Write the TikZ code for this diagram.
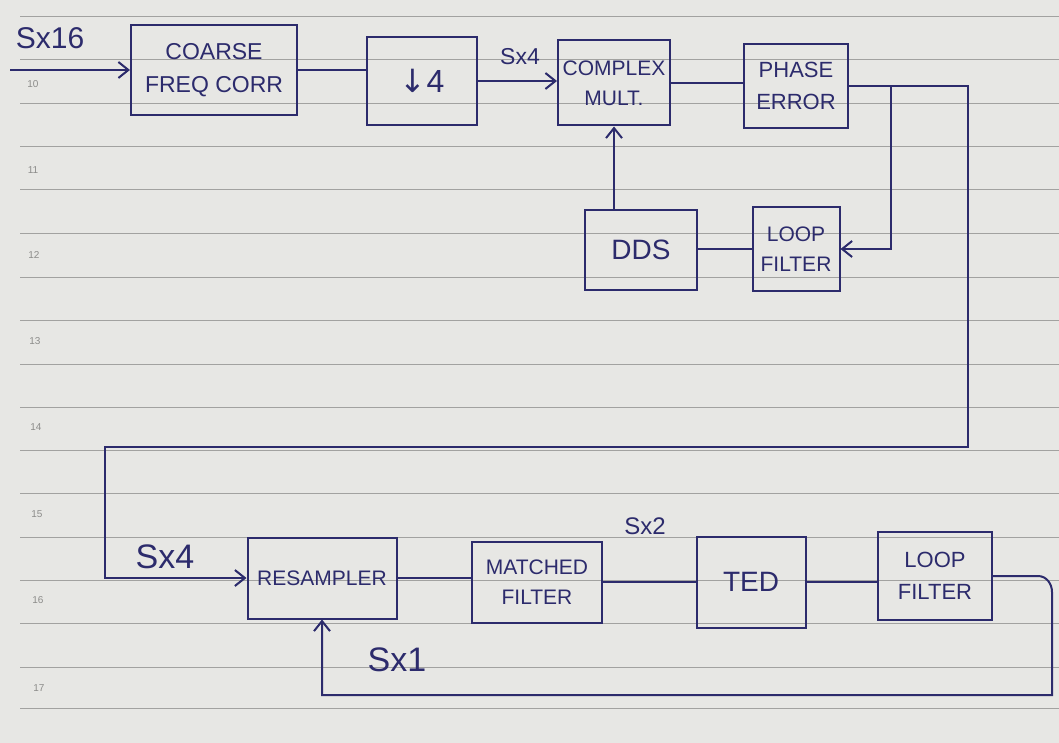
\documentclass[tikz,border=0pt]{standalone}
\usepackage{fontspec}
\setmainfont{Liberation Sans}
\newfontfamily\symfont{DejaVu Sans}
\usetikzlibrary{arrows.meta}
\definecolor{paper}{HTML}{E7E7E4}
\definecolor{rule}{HTML}{A2A2A0}
\definecolor{ink}{HTML}{2C2B6C}
\definecolor{numgray}{HTML}{8C8C8A}
\tikzset{
  blk/.style={draw=ink, line width=2pt, text=ink, inner sep=0pt, align=center,
    font=\fontsize{21}{30}\selectfont},
  wire/.style={draw=ink, line width=2pt},
  arr/.style={wire, -{Straight Barb[length=10pt,width=16pt,line width=2pt]}},
  lbl/.style={text=ink, inner sep=0pt},
  pnum/.style={text=numgray, font=\fontsize{10}{11}\selectfont, inner sep=0pt}
}
\begin{document}
\begin{tikzpicture}[x=1pt,y=-1pt]
\useasboundingbox (0,0) rectangle (1059,743);
\fill[paper] (0,0) rectangle (1059,743);
% ruled paper
\foreach \yy in {17,60,104,147,190,234,277,320,364,407,450,493,537,580,623,667,708}
  \draw[rule, line width=1pt] (20,\yy) -- (1059,\yy);
\node[pnum] (n10) at (33,84) {10};
\node[pnum] (n11) at (33,170) {11};
\node[pnum] (n12) at (34,255) {12};
\node[pnum] (n13) at (35,341) {13};
\node[pnum] (n14) at (36,427) {14};
\node[pnum] (n15) at (37,514) {15};
\node[pnum] (n16) at (38,600) {16};
\node[pnum] (n17) at (39,688) {17};

% blocks
\node[blk, minimum width=166pt, minimum height=90pt, font=\fontsize{23}{33}\selectfont] (coarse) at (214,70) {COARSE\\FREQ CORR};
\node[blk, minimum width=110pt, minimum height=88pt, font=\fontsize{32}{34}\selectfont] (down4) at (422,81) {{\symfont ↓}4};
\node[blk, minimum width=112pt, minimum height=85pt] (cmult) at (614,83) {COMPLEX\\MULT.};
\node[blk, minimum width=104pt, minimum height=84pt, font=\fontsize{22}{32}\selectfont] (phase) at (796,86) {PHASE\\ERROR};
\node[blk, minimum width=112pt, minimum height=80pt, font=\fontsize{28}{30}\selectfont] (dds) at (641,250) {DDS};
\node[blk, minimum width=87pt, minimum height=83pt] (lf1) at (796,249) {LOOP\\FILTER};
\node[blk, minimum width=149pt, minimum height=81pt] (resamp) at (322,578) {RESAMPLER};
\node[blk, minimum width=130pt, minimum height=81pt] (mf) at (537,582) {MATCHED\\FILTER};
\node[blk, minimum width=109pt, minimum height=91pt, font=\fontsize{28}{30}\selectfont] (ted) at (751,582) {TED};
\node[blk, minimum width=114pt, minimum height=88pt, font=\fontsize{22}{32}\selectfont] (lf2) at (935,576) {LOOP\\FILTER};

% labels
\node[lbl, font=\fontsize{30}{32}\selectfont] (l16) at (50,38) {Sx16};
\node[lbl, font=\fontsize{23}{25}\selectfont] (l4a) at (520,57) {Sx4};
\node[lbl, font=\fontsize{34}{36}\selectfont] (l4b) at (165,557) {Sx4};
\node[lbl, font=\fontsize{24}{26}\selectfont] (l2) at (645,526) {Sx2};
\node[lbl, font=\fontsize{34}{36}\selectfont] (l1) at (397,660) {Sx1};

% connectors
\coordinate (in) at (10,70);
\draw[arr] (in) -- (coarse.west);
\draw[wire] (coarse.east) -- (down4.west |- coarse.east);
\draw[arr] (down4.east) -- (cmult.west |- down4.east);
\draw[wire] (cmult.east) -- (phase.west |- cmult.east);
\draw[arr] (phase.east) -- ++(42,0) |- (lf1.east);
\draw[wire] (lf1.west) -- (dds.east |- lf1.west);
\draw[arr] (cmult.south |- dds.north) -- (cmult.south);
\coordinate (tr) at (968,447);
\coordinate (bl) at (105,447);
\draw[arr] (phase.east) -| (tr) -- (bl) |- (resamp.west);
\draw[wire] (resamp.east) -- (mf.west |- resamp.east);
\draw[wire] (mf.east) -- (ted.west |- mf.east);
\draw[wire] (ted.east) -- (lf2.west |- ted.east);
\coordinate (bend) at (1052,592);
\coordinate (br) at (1052,695);
\draw[arr] (lf2.east) -- (1038,576) to[out=0,in=90] (bend) -- (br) -| (resamp.south);
\end{tikzpicture}
\end{document}
